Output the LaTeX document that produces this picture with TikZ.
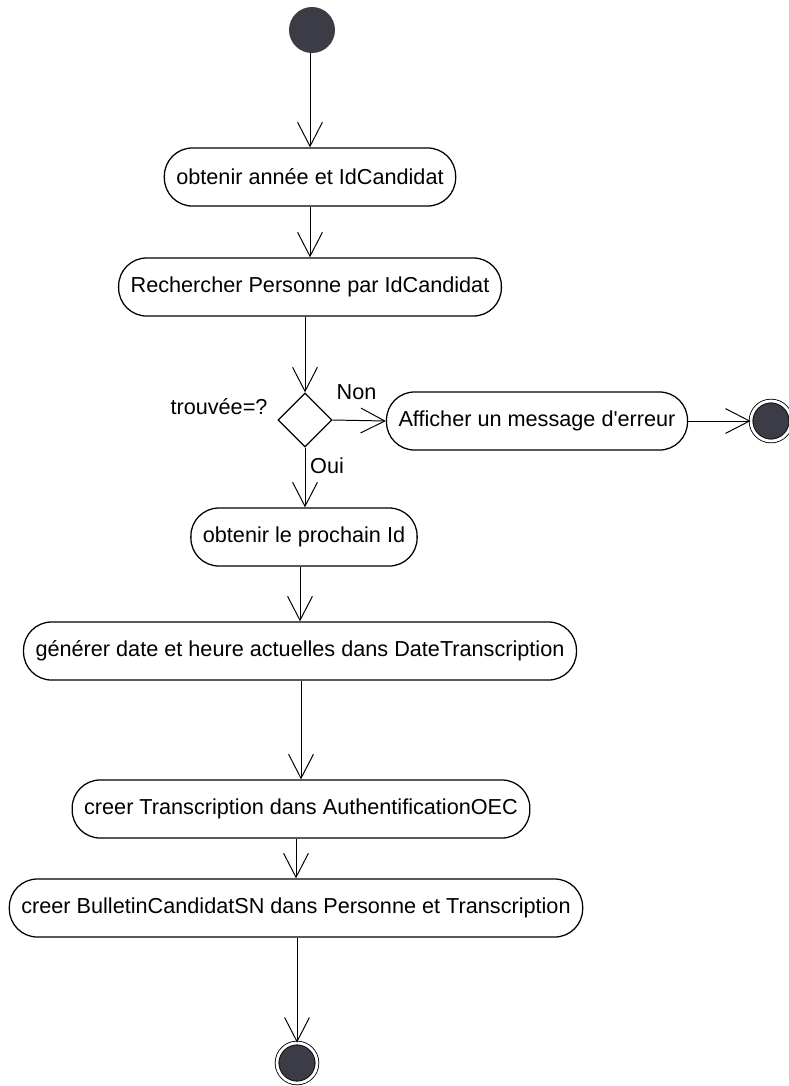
\documentclass[tikz,border=0pt]{standalone}
\usepackage{fontspec}
\setmainfont{Liberation Sans}
\usepackage{tikz}
\usetikzlibrary{arrows.meta,shapes.geometric,positioning,calc}
\definecolor{dotgray}{HTML}{3C3C46}
\tikzset{
  activity/.style={draw, rounded corners=0.7cm, minimum height=1.45cm, inner xsep=0.3cm, line width=0.9pt, font=\fontsize{15.4pt}{18pt}\selectfont},
  decision/.style={draw, diamond, minimum width=1.35cm, minimum height=1.35cm, inner sep=0pt, line width=0.9pt},
  initial/.style={circle, fill=dotgray, minimum size=1.15cm, inner sep=0pt},
  final/.style={circle, fill=dotgray, draw=black, double=white, double distance=2pt, line width=0.6pt, minimum size=1.0cm, inner sep=0pt},
  guard/.style={font=\fontsize{15.4pt}{18pt}\selectfont},
  flow/.style={-{Straight Barb[length=0.6cm,width=0.62cm]}, line width=0.7pt}
}

\begin{document}
\begin{tikzpicture}[x=0.025cm, y=-0.025cm]
          \useasboundingbox (0,0) rectangle (789,1086);

          \node[initial] (Start) at (312,30) {};
          \node[activity] (Obtenir) at (310,177) {obtenir année et IdCandidat};
          \node[activity] (Rechercher) at (310,287) {Rechercher Personne par IdCandidat};
          \node[decision] (Trouvee) at (305,420) {};
          \node[guard] (TrouveeLabel) at (219,407) {trouvée=?};
          \node[activity] (Afficher) at (537,421) {Afficher un message d\textquotesingle erreur};
          \node[final] (EndErreur) at (771,421) {};
          \node[activity] (Prochain) at (304,537) {obtenir le prochain Id};
          \node[activity] (Generer) at (300,651) {générer date et heure actuelles dans DateTranscription};
          \node[activity] (CreerTranscription) at (301,809) {creer Transcription dans AuthentificationOEC};
          \node[activity] (CreerBulletin) at (296,908) {creer BulletinCandidatSN dans Personne et Transcription};
          \node[final] (End) at (297,1063) {};

          \draw[flow] (Start.south -| Obtenir.north) to (Obtenir.north);
          \draw[flow] (Obtenir.south -| Rechercher.north) to (Rechercher.north);
          \draw[flow] (Rechercher.south -| Trouvee.north) to (Trouvee.north);
          \draw[flow] (Trouvee.east) to node[guard, above, pos=0.45, yshift=11pt] (Non) {Non} (Afficher.west);
          \draw[flow] (Afficher.east) to (EndErreur.west);
          \draw[flow] (Trouvee.south) to node[guard, right, pos=0.3] (Oui) {Oui} (Prochain.north -| Trouvee.south);
          \draw[flow] (Prochain.south -| Generer.north) to (Generer.north);
          \draw[flow] (Generer.south -| CreerTranscription.north) to (CreerTranscription.north);
          \draw[flow] (CreerTranscription.south -| CreerBulletin.north) to (CreerBulletin.north);
          \draw[flow] (CreerBulletin.south -| End.north) to (End.north);
        \end{tikzpicture}
\end{document}
